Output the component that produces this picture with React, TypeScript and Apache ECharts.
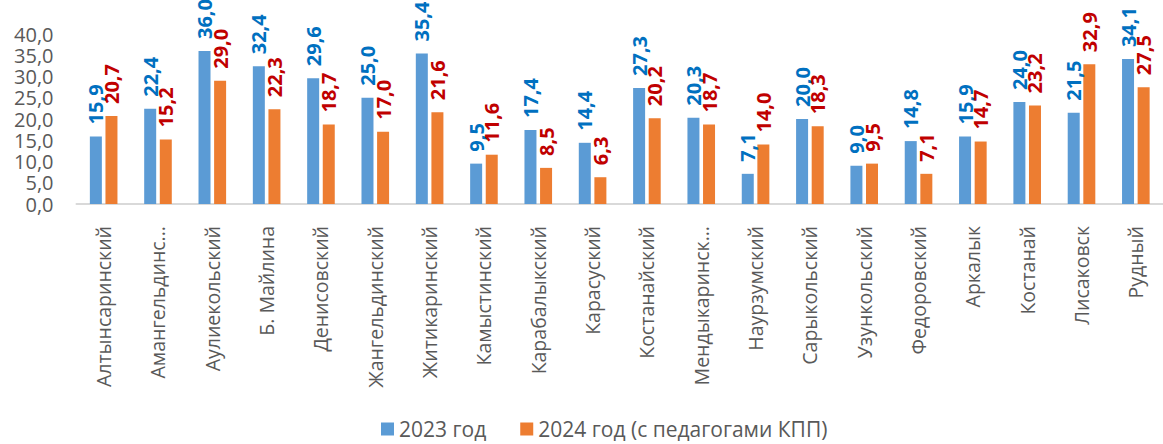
import React, { useEffect, useRef } from "react";
import * as echarts from "echarts";

const categories = [
  "Алтынсаринский",
  "Амангельдинс...",
  "Аулиекольский",
  "Б. Майлина",
  "Денисовский",
  "Жангельдинский",
  "Житикаринский",
  "Камыстинский",
  "Карабалыкский",
  "Карасуский",
  "Костанайский",
  "Мендыкаринск...",
  "Наурзумский",
  "Сарыкольский",
  "Узункольский",
  "Федоровский",
  "Аркалык",
  "Костанай",
  "Лисаковск",
  "Рудный",
];

const values2023 = [15.9, 22.4, 36.0, 32.4, 29.6, 25.0, 35.4, 9.5, 17.4, 14.4, 27.3, 20.3, 7.1, 20.0, 9.0, 14.8, 15.9, 24.0, 21.5, 34.1];
const values2024 = [20.7, 15.2, 29.0, 22.3, 18.7, 17.0, 21.6, 11.6, 8.5, 6.3, 20.2, 18.7, 14.0, 18.3, 9.5, 7.1, 14.7, 23.2, 32.9, 27.5];

const seriesNames = ["2023 год", "2024 год (с педагогами КПП)"];

const FONT = "'Open Sans', 'Noto Sans', sans-serif";
const fmt = (v: number) => v.toFixed(1).replace(".", ",");

export default function App() {
  const ref = useRef<HTMLDivElement>(null);
  useEffect(() => {
    document.body.style.margin = "0";
    if (!ref.current) return;
    const chart = echarts.init(ref.current, undefined, { renderer: "svg" });
    const labelBase = {
      show: true,
      position: "top" as const,
      rotate: 90,
      align: "left",
      verticalAlign: "middle",
      distance: 12,
      fontSize: 20,
      fontWeight: "bold" as const,
      fontFamily: FONT,
      formatter: (p: any) => fmt(p.value),
    };
    chart.setOption({
      animation: false,
      grid: { left: 76.5, right: -14.5, top: 34, bottom: 240, containLabel: false },
      legend: {
        left: 376,
        top: 413,
        icon: "rect",
        itemWidth: 13,
        itemHeight: 13,
        itemGap: 34,
        textStyle: { fontSize: 21, color: "#595959", fontFamily: FONT, lineHeight: 22 },
        data: seriesNames,
      },
      xAxis: {
        type: "category",
        data: categories,
        axisTick: { show: false },
        axisLine: { lineStyle: { color: "#d9d9d9", width: 2 } },
        axisLabel: {
          rotate: 90,
          interval: 0,
          fontSize: 19.5,
          color: "#595959",
          fontFamily: FONT,
          margin: 22,
        },
      },
      yAxis: {
        type: "value",
        min: 0,
        max: 40,
        interval: 5,
        splitLine: { show: false },
        axisLine: { show: false },
        axisTick: { show: false },
        axisLabel: {
          fontSize: 20,
          lineHeight: 18,
          color: "#595959",
          fontFamily: FONT,
          margin: 23,
          formatter: (v: number) => fmt(v),
        },
      },
      series: [
        {
          name: seriesNames[0],
          type: "bar",
          data: values2023,
          barWidth: 12,
          barGap: "30%",
          itemStyle: { color: "#5B9BD5" },
          label: { ...labelBase, color: "#0070C0" },
        },
        {
          name: seriesNames[1],
          type: "bar",
          data: values2024,
          barWidth: 12,
          itemStyle: { color: "#ED7D31" },
          label: { ...labelBase, color: "#C00000" },
        },
      ],
    });
    return () => chart.dispose();
  }, []);
  return <div ref={ref} style={{ width: 1163, height: 444 }} />;
}
